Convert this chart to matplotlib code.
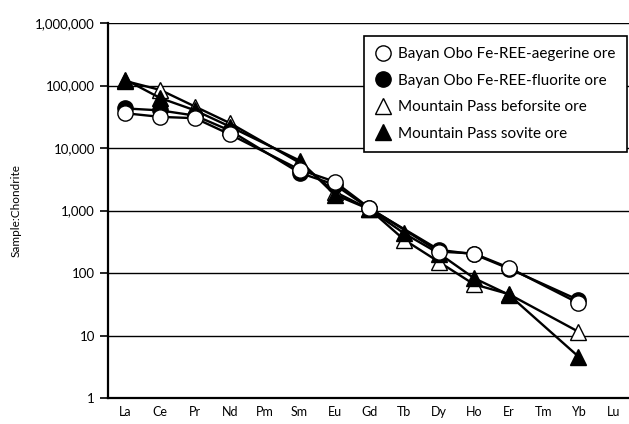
import matplotlib
matplotlib.use("Agg")
import matplotlib.pyplot as plt
from matplotlib.ticker import FixedLocator, FuncFormatter, NullLocator

elements = ["La", "Ce", "Pr", "Nd", "Pm", "Sm", "Eu", "Gd", "Tb", "Dy", "Ho", "Er", "Tm", "Yb", "Lu"]

# None = not analysed
aegerine = [36000, 31500, 30000, 16500, None, 4500, 2900, 1100, None, 220, 205, 122, None, 33, None]
fluorite = [43000, 40000, 33000, 19000, None, 4000, 2600, 1080, None, 235, 200, 118, None, 37, None]
beforsite = [118000, 85000, 46000, 25000, None, 5800, 2000, 1050, 340, 150, 66, 46, None, 11.5, None]
sovite = [124000, 63000, 40000, 22000, None, 6300, 1800, 1050, 430, 205, 83, 45, None, 4.6, None]

series = [
    ("Mountain Pass beforsite ore", beforsite, "^", "white"),
    ("Mountain Pass sovite ore", sovite, "^", "black"),
    ("Bayan Obo Fe-REE-fluorite ore", fluorite, "o", "black"),
    ("Bayan Obo Fe-REE-aegerine ore", aegerine, "o", "white"),
]
legend_order = ["Bayan Obo Fe-REE-aegerine ore", "Bayan Obo Fe-REE-fluorite ore",
                "Mountain Pass beforsite ore", "Mountain Pass sovite ore"]

plt.rcParams["font.family"] = ["Lato", "DejaVu Sans"]

fig = plt.figure(figsize=(6.29, 4.24), dpi=100)
ax = fig.add_axes([0.1717, 0.0613, 0.8283, 0.8844])

handles = {}
for name, vals, mk, fc in series:
    xs = [i for i, v in enumerate(vals) if v is not None]
    ys = [v for v in vals if v is not None]
    h, = ax.plot(xs, ys, color="black", lw=1.7, marker=mk, markersize=11,
                 markerfacecolor=fc, markeredgecolor="black", markeredgewidth=1.0,
                 label=name)
    handles[name] = h

ax.set_yscale("log")
ax.set_ylim(1, 1e6)
ax.set_xlim(-0.5, 14.45)
ax.yaxis.set_major_locator(FixedLocator([1, 10, 100, 1000, 1e4, 1e5, 1e6]))
ax.yaxis.set_minor_locator(NullLocator())
ax.yaxis.set_major_formatter(FuncFormatter(lambda v, p: f"{int(round(v)):,}"))
ax.set_xticks(range(len(elements)))
ax.set_xticklabels(elements)
ax.tick_params(axis="x", length=0, labelsize=9, pad=6)
ax.tick_params(axis="y", direction="out", length=6, width=1.2, labelsize=9.5)
ax.grid(axis="y", color="black", lw=1.0)
ax.set_axisbelow(True)
for s in ["top", "right"]:
    ax.spines[s].set_visible(False)
for s in ["left", "bottom"]:
    ax.spines[s].set_linewidth(1.6)

ax.set_ylabel("Sample:Chondrite", fontsize=8.5, labelpad=10)

leg = ax.legend([handles[n] for n in legend_order], legend_order,
                loc="upper right", bbox_to_anchor=(0.996, 0.966), fontsize=11,
                frameon=True, fancybox=False, edgecolor="black", framealpha=1,
                handlelength=1.0, handletextpad=0.5, labelspacing=0.82,
                borderpad=0.75, borderaxespad=0, markerscale=1.0)
leg.get_frame().set_linewidth(1.2)
for line in leg.get_lines():
    line.set_linestyle("none")

fig.savefig("out.png", dpi=100)
